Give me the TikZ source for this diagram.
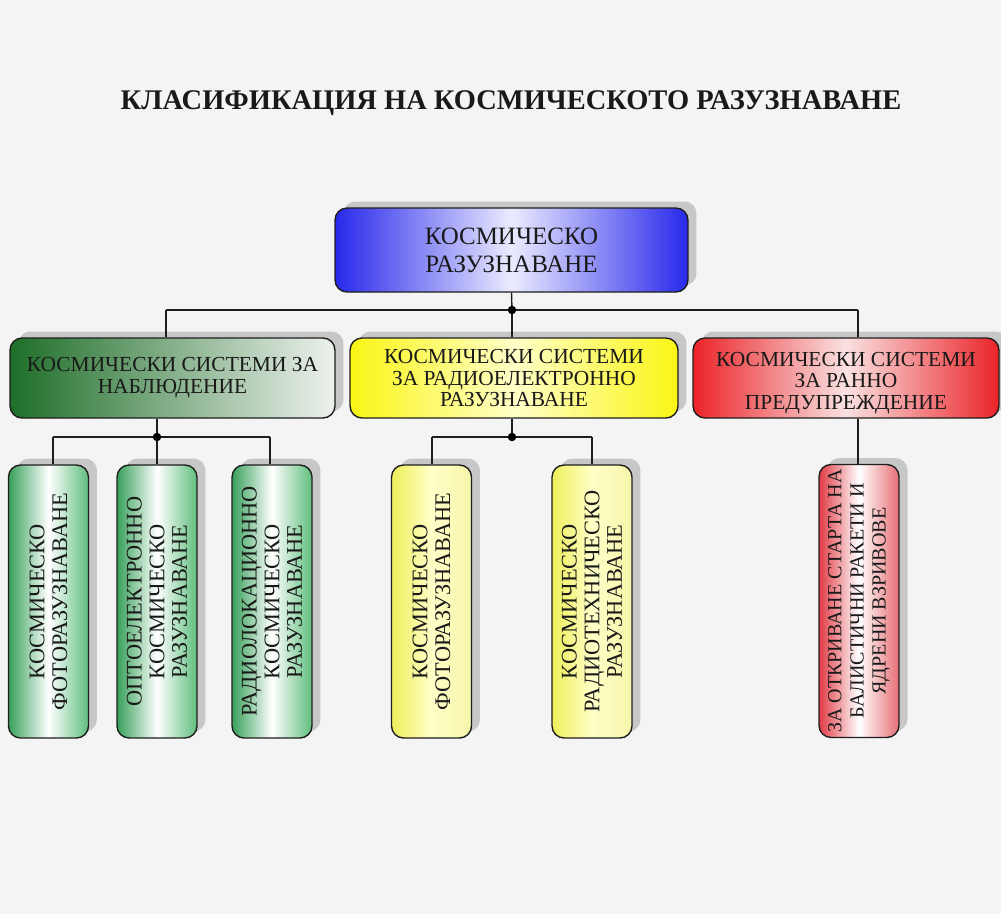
\documentclass[tikz,border=0pt]{standalone}
\usepackage{fontspec}
\setmainfont{Liberation Serif}
\usetikzlibrary{shadows}
\definecolor{bgc}{RGB}{244,244,244}
\definecolor{blueE}{RGB}{40,40,235}
\definecolor{blueM}{RGB}{235,235,255}
\definecolor{greenD}{RGB}{30,110,40}
\definecolor{greenMid}{RGB}{110,160,110}
\definecolor{greenW}{RGB}{238,242,238}
\definecolor{yelE}{RGB}{250,245,20}
\definecolor{yelM}{RGB}{255,255,200}
\definecolor{redE}{RGB}{235,35,40}
\definecolor{redM}{RGB}{250,225,225}
\definecolor{g3L}{RGB}{55,160,90}
\definecolor{g3R}{RGB}{95,190,125}
\definecolor{y3L}{RGB}{238,238,90}
\definecolor{y3R}{RGB}{245,245,170}
\definecolor{r3L}{RGB}{225,60,70}
\definecolor{r3R}{RGB}{230,110,115}
\definecolor{edge}{RGB}{30,30,30}
\definecolor{txt}{RGB}{25,25,25}
\tikzset{
  boxbase/.style={draw=edge, line width=0.8pt, rounded corners=0.24cm, inner sep=2pt, text=txt,
    general shadow={shadow xshift=0.17cm, shadow yshift=0.13cm, fill=black!22}},
  lvlone/.style={boxbase, minimum width=7.06cm, minimum height=1.68cm, align=center,
    left color=blueE, right color=blueE, middle color=blueM,
    font=\fontsize{14.2}{16}\selectfont},
  lvltwo/.style={boxbase, minimum height=1.6cm, align=center,
    font=\fontsize{12.2}{12.4}\selectfont},
  lvlthree/.style={boxbase, minimum width=1.6cm, minimum height=5.46cm},
  vtext/.style={rotate=90, align=center, text=txt, font=\fontsize{12.7}{12.9}\selectfont},
  conn/.style={line width=0.8pt, draw=edge},
  dot/.style={circle, fill=black, inner sep=0pt, minimum size=0.17cm}
}
\begin{document}
\begin{tikzpicture}[x=0.02cm, y=-0.02cm]
\fill[bgc] (0,0) rectangle (1001,914);
\useasboundingbox (0,0) rectangle (1001,914);

\node[font=\bfseries\fontsize{16.2}{18}\selectfont, text=txt] (title) at (511,103) {КЛАСИФИКАЦИЯ НА КОСМИЧЕСКОТО РАЗУЗНАВАНЕ};

% level 1
\node[lvlone] (top) at (511.5,250) {КОСМИЧЕСКО\\РАЗУЗНАВАНЕ};

% level 2
\node[lvltwo, minimum width=6.5cm, left color=greenD, middle color=greenMid, right color=greenW] (g2) at (172.5,378)
  {КОСМИЧЕСКИ СИСТЕМИ ЗА\\НАБЛЮДЕНИЕ};
\node[lvltwo, minimum width=6.56cm, left color=yelE, right color=yelE, middle color=yelM] (y2) at (514,378)
  {КОСМИЧЕСКИ СИСТЕМИ\\ЗА РАДИОЕЛЕКТРОННО\\РАЗУЗНАВАНЕ};
\node[lvltwo, minimum width=6.12cm, left color=redE, right color=redE, middle color=redM] (r2) at (846,378) {};
\node[align=center, text=txt, font=\fontsize{12.2}{12.4}\selectfont] (r2t) at ([yshift=-0.1cm]r2.center)
  {КОСМИЧЕСКИ СИСТЕМИ\\ЗА РАННО\\ПРЕДУПРЕЖДЕНИЕ};

% level 3 boxes
\node[lvlthree, left color=g3L, right color=g3R, middle color=white] (ga) at (48.5,601.5) {};
\node[lvlthree, left color=g3L, right color=g3R, middle color=white] (gb) at (157,601.5) {};
\node[lvlthree, left color=g3L, right color=g3R, middle color=white] (gc) at (272,601.5) {};
\node[lvlthree, left color=y3L, right color=y3R, middle color=yelM] (ya) at (431.5,601.5) {};
\node[lvlthree, left color=y3L, right color=y3R, middle color=yelM] (yb) at (592,601.5) {};
\node[lvlthree, left color=r3L, right color=r3R, middle color=white] (ra) at (859,601) {};

\node[vtext] (gat) at (ga) {КОСМИЧЕСКО\\ФОТОРАЗУЗНАВАНЕ};
\node[vtext] (gbt) at (gb) {ОПТОЕЛЕКТРОННО\\КОСМИЧЕСКО\\РАЗУЗНАВАНЕ};
\node[vtext] (gct) at (gc) {РАДИОЛОКАЦИОННО\\КОСМИЧЕСКО\\РАЗУЗНАВАНЕ};
\node[vtext] (yat) at (ya) {КОСМИЧЕСКО\\ФОТОРАЗУЗНАВАНЕ};
\node[vtext] (ybt) at (yb) {КОСМИЧЕСКО\\РАДИОТЕХНИЧЕСКО\\РАЗУЗНАВАНЕ};
\node[vtext, font=\fontsize{11.4}{12.6}\selectfont] (rat) at (ra) {ЗА ОТКРИВАНЕ СТАРТА НА\\БАЛИСТИЧНИ РАКЕТИ И\\ЯДРЕНИ ВЗРИВОВЕ};

% connectors: top bus
\coordinate (tb) at (512,310);
\coordinate (tbl) at (166,310);
\coordinate (tbr) at (858,310);
\draw[conn] (top.south) -- (tb);
\draw[conn] (tbl) -- (tbr);
\draw[conn] (tbl) -- (tbl |- g2.north);
\draw[conn] (tb) -- (tb |- y2.north);
\draw[conn] (tbr) -- (tbr |- r2.north);
\node[dot] (tbd) at (tb) {};

% green bus
\coordinate (gd) at (157,437);
\coordinate (gdl) at (53,437);
\coordinate (gdr) at (270,437);
\draw[conn] (gd |- g2.south) -- (gd);
\draw[conn] (gdl) -- (gdr);
\draw[conn] (gdl) -- (gdl |- ga.north);
\draw[conn] (gd) -- (gd |- gb.north);
\draw[conn] (gdr) -- (gdr |- gc.north);
\node[dot] (gdd) at (gd) {};

% yellow bus
\coordinate (yd) at (512,437);
\coordinate (ydl) at (432,437);
\coordinate (ydr) at (592,437);
\draw[conn] (yd |- y2.south) -- (yd);
\draw[conn] (ydl) -- (ydr);
\draw[conn] (ydl) -- (ydl |- ya.north);
\draw[conn] (ydr) -- (ydr |- yb.north);
\node[dot] (ydd) at (yd) {};

% red
\coordinate (rd) at (858,437);
\draw[conn] (rd |- r2.south) -- (rd |- ra.north);
\end{tikzpicture}
\end{document}
